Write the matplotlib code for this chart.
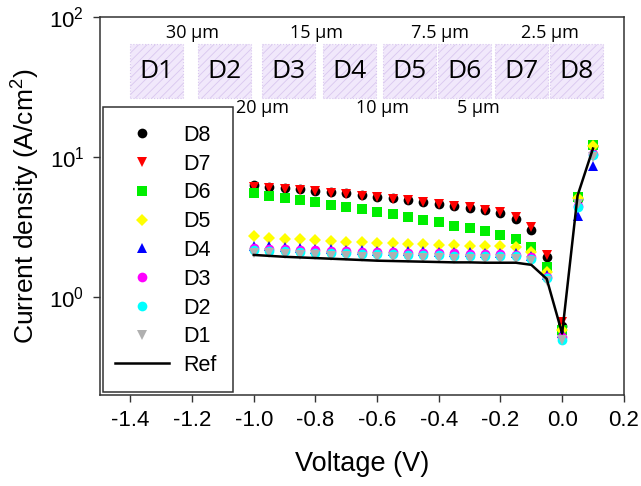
import numpy as np
import matplotlib
matplotlib.use('Agg')
import matplotlib.pyplot as plt
from matplotlib.patches import Rectangle
from matplotlib.ticker import LogLocator, NullLocator

plt.rcParams['font.family'] = ['Liberation Sans', 'DejaVu Sans']
plt.rcParams['mathtext.fontset'] = 'custom'
plt.rcParams['mathtext.rm'] = 'Liberation Sans'
plt.rcParams['hatch.linewidth'] = 0.6

# dati
V = [-1.0, -0.95, -0.9, -0.85, -0.8, -0.75, -0.7, -0.65, -0.6, -0.55, -0.5, -0.45,
     -0.4, -0.35, -0.3, -0.25, -0.2, -0.15, -0.1, -0.05, 0.0, 0.05, 0.1]
D8 = [6.3, 6.15, 6.05, 5.9, 5.75, 5.6, 5.5, 5.35, 5.2, 5.07, 4.93, 4.8, 4.65, 4.5, 4.35, 4.18, 4.0, 3.6, 3.0, 1.92, 0.62, 5.0, 12.0]
D7 = [6.1, 6.0, 5.95, 5.8, 5.7, 5.55, 5.45, 5.3, 5.15, 5.05, 4.9, 4.78, 4.65, 4.5, 4.38, 4.22, 4.08, 3.75, 3.15, 2.0, 0.66, 5.1, 12.2]
D6 = [5.5, 5.27, 5.07, 4.93, 4.74, 4.54, 4.37, 4.23, 4.03, 3.89, 3.75, 3.57, 3.41, 3.23, 3.13, 2.97, 2.77, 2.59, 2.29, 1.65, 0.58, 5.15, 12.2]
D5 = [2.72, 2.66, 2.62, 2.58, 2.55, 2.52, 2.49, 2.47, 2.44, 2.42, 2.4, 2.38, 2.36, 2.34, 2.33, 2.32, 2.31, 2.28, 2.1, 1.5, 0.58, 5.1, 12.0]
D4 = [2.33, 2.3, 2.27, 2.25, 2.22, 2.2, 2.18, 2.17, 2.15, 2.14, 2.13, 2.12, 2.11, 2.1, 2.09, 2.08, 2.08, 2.06, 1.98, 1.45, 0.55, 3.8, 8.7]
D3 = [2.25, 2.22, 2.2, 2.18, 2.16, 2.14, 2.12, 2.11, 2.1, 2.09, 2.08, 2.07, 2.06, 2.05, 2.04, 2.03, 2.03, 2.01, 1.93, 1.4, 0.52, 4.5, 10.5]
D2 = [2.17, 2.14, 2.12, 2.1, 2.08, 2.06, 2.05, 2.04, 2.03, 2.02, 2.01, 2.0, 1.99, 1.98, 1.97, 1.97, 1.96, 1.95, 1.88, 1.36, 0.49, 4.4, 10.3]
D1 = [2.08, 2.05, 2.03, 2.01, 1.99, 1.97, 1.95, 1.94, 1.93, 1.92, 1.91, 1.9, 1.89, 1.88, 1.88, 1.87, 1.87, 1.86, 1.8, 1.3, 0.49, 4.6, 10.0]
Ref = [2.0, 1.97, 1.94, 1.92, 1.9, 1.88, 1.86, 1.84, 1.82, 1.81, 1.8, 1.79, 1.78, 1.77, 1.77, 1.76, 1.76, 1.76, 1.7, 1.35, 0.55, 5.3, 11.5]

series = [('D8', D8), ('D7', D7), ('D6', D6), ('D5', D5), ('D4', D4), ('D3', D3), ('D2', D2), ('D1', D1)]
markers = ['o', 'v', 's', 'D', '^', 'o', 'o', 'v']
colors = ['black', '#ff0000', '#00ee00', '#ffff00', '#0000ff', '#ff00ff', '#00ffff', '#b0b0b0']
msizes = [7, 7, 6.5, 6, 7, 7, 7, 7]

xticks = [-1.4, -1.2, -1.0, -0.8, -0.6, -0.4, -0.2, 0.0, 0.2]
xticklabels = ['-1.4', '-1.2', '-1.0', '-0.8', '-0.6', '-0.4', '-0.2', '0.0', '0.2']

# dispositivi nel riquadro in alto
devices = ['D1', 'D2', 'D3', 'D4', 'D5', 'D6', 'D7', 'D8']
widths_top = ['30 µm', '15 µm', '7.5 µm', '2.5 µm']
widths_bottom = ['20 µm', '10 µm', '5 µm']

fig = plt.figure(figsize=(6.41, 4.86), dpi=100)
ax = fig.add_axes([99.6/641, 1-395/486, 524.2/641, 378/486])

# conversione pixel -> frazione assi (solo per la disposizione)
def fx(px):
    return (px - 99.6) / 524.2

def fy(py):
    return (395 - py) / 378

for (lab, y), m, c, s in zip(series, markers, colors, msizes):
    ax.plot(V, y, linestyle='none', marker=m, color=c, markersize=s,
            markeredgewidth=0, label=lab)
ax.plot(V, Ref, color='black', lw=1.8, label='Ref')

ax.set_yscale('log')
ax.set_ylim(0.2, 100)
ax.set_xlim(-1.5, 0.2)
ax.set_xticks(xticks)
ax.set_xticklabels(xticklabels)
ax.yaxis.set_major_locator(LogLocator(base=10, numticks=10))
ax.yaxis.set_minor_locator(NullLocator())
ax.tick_params(axis='both', direction='out', length=5, width=1, labelsize=16,
               color='#333333', top=False, right=False, pad=6)
for sp in ax.spines.values():
    sp.set_color('#333333')
    sp.set_linewidth(1.1)
ax.set_xlabel('Voltage (V)', fontsize=19.5, labelpad=14)
ax.set_ylabel('Current density (A/cm$^2$)', fontsize=19, labelpad=6)

# legenda: cornice disegnata a parte
leg = ax.legend(loc='upper left', bbox_to_anchor=(fx(115), fy(125)),
                fontsize=15.5, labelspacing=0.36, handlelength=2.5,
                handletextpad=0.65, borderpad=0, borderaxespad=0, frameon=False)
ax.add_patch(Rectangle((fx(103), fy(392)), fx(233) - fx(103), fy(107) - fy(392),
                       transform=ax.transAxes, fill=False, edgecolor='#333333',
                       lw=1.1, zorder=6))

# riquadri D1..D8
box_left = [130, 198, 262, 323, 383, 438, 495, 550]
for d, l in zip(devices, box_left):
    ax.add_patch(Rectangle((fx(l), fy(98)), 53/524.2, 54/378, transform=ax.transAxes,
                           facecolor='#f1e8fb', edgecolor='#d9c7ef', hatch='////',
                           lw=0.8, linestyle=':', zorder=3))
    ax.text(fx(l + 26.5), fy(71), d, transform=ax.transAxes, ha='center', va='center',
            fontsize=19, family=['Open Sans', 'DejaVu Sans'], zorder=4)

for t, px in zip(widths_top, [192, 317, 440, 550]):
    ax.text(fx(px), fy(33), t, transform=ax.transAxes, ha='center', va='center',
            fontsize=13, family=['Open Sans', 'DejaVu Sans'])
for t, px in zip(widths_bottom, [263, 382, 478]):
    ax.text(fx(px), fy(108), t, transform=ax.transAxes, ha='center', va='center',
            fontsize=13, family=['Open Sans', 'DejaVu Sans'])

fig.savefig('out.png', dpi=100)
